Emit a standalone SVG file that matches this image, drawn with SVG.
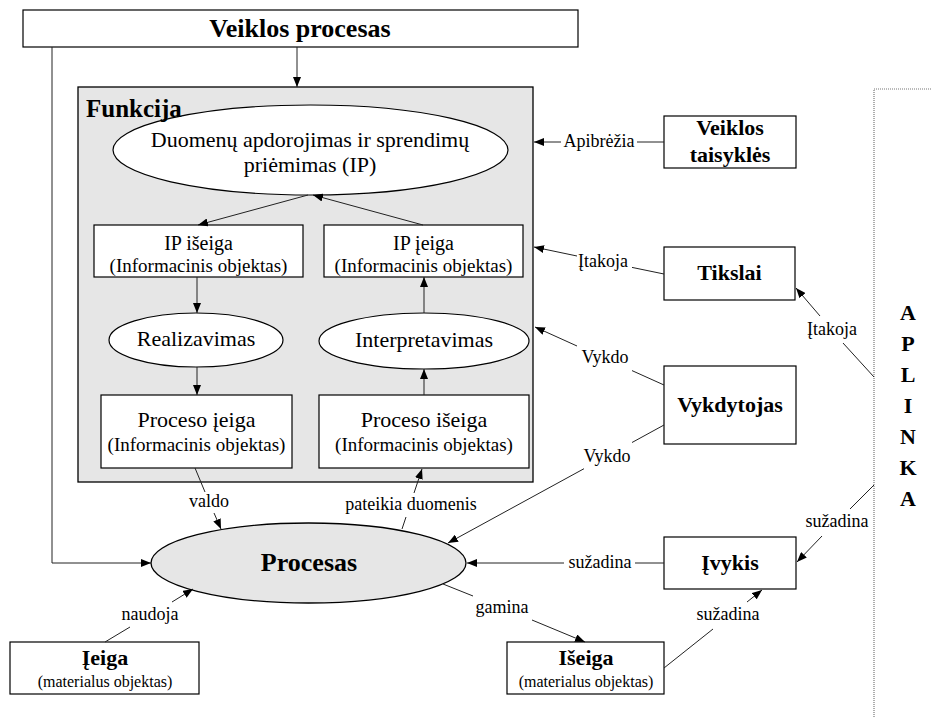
<svg xmlns="http://www.w3.org/2000/svg" width="931" height="717" viewBox="0 0 931 717">
  <defs>
    <marker id="arrow" viewBox="0 0 10 8" refX="10" refY="4" markerWidth="10" markerHeight="8" markerUnits="userSpaceOnUse" orient="auto">
      <path d="M0,0 L10,4 L0,8 z" fill="#000"/>
    </marker>
    <style>
      .box { fill: #fff; stroke: #000; stroke-width: 1.2; }
      .ell { fill: #fff; stroke: #000; stroke-width: 1.2; }
      .gray { fill: #e6e6e6; stroke: #000; stroke-width: 1.3; }
      .ln { fill: none; stroke: #222; stroke-width: 1; }
      .arr { fill: none; stroke: #222; stroke-width: 1; marker-end: url(#arrow); }
      .env { fill: none; stroke: #777; stroke-width: 1.2; stroke-dasharray: 1 1; }
      text { font-family: "Liberation Serif", "Times New Roman", serif; fill: #000; text-anchor: middle; }
      .b { font-weight: bold; }
      .lbl { font-size: 18px; }
      .main { font-size: 22px; }
      .sub { font-size: 19px; }
      .msub { font-size: 16px; }
    </style>
  </defs>

  <!-- environment frame -->
  <g id="aplinka">
    <path class="env" d="M931,89 H874 V717"/>
    <text class="b" x="908" y="320" font-size="22">A</text>
    <text class="b" x="908" y="351" font-size="22">P</text>
    <text class="b" x="908" y="382" font-size="22">L</text>
    <text class="b" x="908" y="413" font-size="22">I</text>
    <text class="b" x="908" y="444" font-size="22">N</text>
    <text class="b" x="908" y="475" font-size="22">K</text>
    <text class="b" x="908" y="506" font-size="22">A</text>
  </g>

  <g id="veiklos-procesas">
    <rect class="box" x="23" y="10" width="555" height="37"/>
    <text class="b" x="300" y="37" font-size="26">Veiklos procesas</text>
  </g>

  <g id="funkcija">
    <rect class="gray" x="78" y="87" width="455" height="395"/>
  </g>

  <g id="ip">
    <ellipse class="ell" cx="310.5" cy="150" rx="197.5" ry="45"/>
    <text class="main" x="310" y="147">Duomenų apdorojimas ir sprendimų</text>
    <text class="main" x="310" y="172">priėmimas (IP)</text>
  </g>
  <text class="b" x="86" y="117" font-size="25" style="text-anchor:start">Funkcija</text>

  <g id="ip-iseiga">
    <rect class="box" x="94" y="225" width="209" height="52"/>
    <text x="198.5" y="250" font-size="20">IP išeiga</text>
    <text class="sub" x="198.5" y="272">(Informacinis objektas)</text>
  </g>

  <g id="ip-ieiga">
    <rect class="box" x="324" y="225" width="199" height="52"/>
    <text x="423.5" y="250" font-size="20">IP įeiga</text>
    <text class="sub" x="423.5" y="272">(Informacinis objektas)</text>
  </g>

  <g id="realizavimas">
    <ellipse class="ell" cx="196" cy="340" rx="87" ry="27"/>
    <text class="main" x="196" y="346">Realizavimas</text>
  </g>

  <g id="interpretavimas">
    <ellipse class="ell" cx="424" cy="341" rx="105" ry="28"/>
    <text class="main" x="424" y="347">Interpretavimas</text>
  </g>

  <g id="proceso-ieiga">
    <rect class="box" x="101" y="395" width="191" height="73"/>
    <text class="main" x="196.5" y="427">Proceso įeiga</text>
    <text class="sub" x="196.5" y="451">(Informacinis objektas)</text>
  </g>

  <g id="proceso-iseiga">
    <rect class="box" x="319" y="395" width="210" height="73"/>
    <text class="main" x="424" y="427">Proceso išeiga</text>
    <text class="sub" x="424" y="451">(Informacinis objektas)</text>
  </g>

  <g id="veiklos-taisykles">
    <rect class="box" x="664" y="116" width="132" height="52"/>
    <text class="b main" x="730" y="135">Veiklos</text>
    <text class="b main" x="730" y="162">taisyklės</text>
  </g>

  <g id="tikslai">
    <rect class="box" x="664" y="247" width="131" height="53"/>
    <text class="b main" x="729.5" y="280">Tikslai</text>
  </g>

  <g id="vykdytojas">
    <rect class="box" x="664" y="366" width="132" height="78"/>
    <text class="b main" x="730" y="412">Vykdytojas</text>
  </g>

  <g id="procesas">
    <ellipse class="gray" cx="308.5" cy="563" rx="157.5" ry="40"/>
    <text class="b" x="309" y="571" font-size="26">Procesas</text>
  </g>

  <g id="ivykis">
    <rect class="box" x="664" y="537" width="132" height="52"/>
    <text class="b main" x="730" y="570">Įvykis</text>
  </g>

  <g id="ieiga">
    <rect class="box" x="10" y="642" width="189" height="52"/>
    <text class="b main" x="105" y="665">Įeiga</text>
    <text class="msub" x="105" y="687">(materialus objektas)</text>
  </g>

  <g id="iseiga">
    <rect class="box" x="507" y="642" width="157" height="52"/>
    <text class="b main" x="586" y="665">Išeiga</text>
    <text class="msub" x="586" y="687">(materialus objektas)</text>
  </g>

  <g id="connectors">
    <!-- top-level process -->
    <path class="arr" d="M52,47 V563 H151"/>
    <path class="arr" d="M297,47 V87"/>

    <!-- inside the function -->
    <path class="arr" d="M308,195 L198,225"/>
    <path class="arr" d="M423,225 L313,195"/>
    <path class="arr" d="M197,277 V313"/>
    <path class="arr" d="M197,367 V395"/>
    <path class="arr" d="M424,395 V369"/>
    <path class="arr" d="M424,313 V277"/>

    <!-- rules, goals, executor -->
    <path class="ln" d="M664,142 H637"/>
    <path class="arr" d="M561,142 H534"/>
    <text class="lbl" x="599" y="147">Apibrėžia</text>

    <path class="ln" d="M664,274 L632,267.4"/>
    <path class="arr" d="M577,256 L534,247"/>
    <text class="lbl" x="603" y="267">Įtakoja</text>

    <path class="ln" d="M664,385 L632,370.6"/>
    <path class="arr" d="M577,346 L535,327"/>
    <text class="lbl" x="605" y="363">Vykdo</text>

    <path class="ln" d="M664,425 L632,442.5"/>
    <path class="arr" d="M584,468.7 L448,543"/>
    <text class="lbl" x="607" y="462">Vykdo</text>

    <path class="ln" d="M874,377 L843,343"/>
    <path class="arr" d="M820,316 L796,288"/>
    <text class="lbl" x="832" y="335">Įtakoja</text>

    <!-- process relations -->
    <path class="ln" d="M195,468 L205,492"/>
    <path class="arr" d="M214,513 L221,529"/>
    <text class="lbl" x="209" y="507">valdo</text>

    <path class="ln" d="M402,529 L406,517"/>
    <path class="arr" d="M414,493 L422,469"/>
    <text class="lbl" x="411" y="510">pateikia duomenis</text>

    <path class="ln" d="M105,642 L130,627"/>
    <path class="arr" d="M172,602 L193,589"/>
    <text class="lbl" x="150" y="620">naudoja</text>

    <path class="ln" d="M443,584 L473,596"/>
    <path class="arr" d="M532,620 L585,642"/>
    <text class="lbl" x="502" y="613">gamina</text>

    <path class="ln" d="M664,563 H635"/>
    <path class="arr" d="M564,563 H467"/>
    <text class="lbl" x="600" y="568">sužadina</text>

    <path class="ln" d="M874,485 L850,509"/>
    <path class="arr" d="M822,536 L797,562"/>
    <text class="lbl" x="837" y="527">sužadina</text>

    <path class="ln" d="M664,668 L713,629"/>
    <path class="arr" d="M747,602 L762,590"/>
    <text class="lbl" x="728" y="620">sužadina</text>
  </g>
</svg>
